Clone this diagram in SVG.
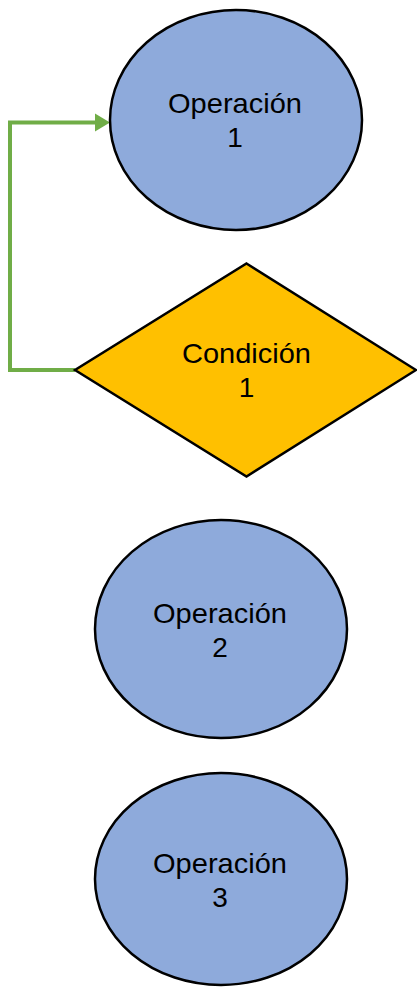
<svg xmlns="http://www.w3.org/2000/svg" width="417" height="987" viewBox="0 0 417 987">
<style>
.op{fill:#8EAADB;stroke:#000;stroke-width:2.5}
.cond{fill:#FFC000;stroke:#000;stroke-width:2.5}
.t{font-family:"Liberation Sans",Arial,sans-serif;font-size:28px;fill:#000;text-anchor:middle}
.conn{fill:none;stroke:#70AD47;stroke-width:4}
</style>
<defs>
<marker id="ah" markerUnits="userSpaceOnUse" markerWidth="16" markerHeight="18" refX="15" refY="9" orient="auto">
<path d="M0,0 L15,9 L0,18 Z" fill="#70AD47"/>
</marker>
</defs>
<rect width="417" height="987" fill="#fff"/>
<g id="connectors">
<path class="conn" d="M75,370 H10 V122.5 H100"/>
<path d="M95,113.5 L110,122.5 L95,131.5 Z" fill="#70AD47"/>
</g>
<g id="op1">
<ellipse class="op" cx="236" cy="120" rx="126" ry="110"/>
<text class="t" x="235" y="113" textLength="134" lengthAdjust="spacingAndGlyphs">Operación</text>
<text class="t" x="235" y="146.5">1</text>
</g>
<g id="cond1">
<polygon class="cond" points="246.5,263.5 416,370 246.5,476.5 75,370"/>
<text class="t" x="246.5" y="363" textLength="129" lengthAdjust="spacingAndGlyphs">Condición</text>
<text class="t" x="246.5" y="396.5">1</text>
</g>
<g id="op2">
<ellipse class="op" cx="221" cy="629" rx="126" ry="109"/>
<text class="t" x="220" y="623" textLength="134" lengthAdjust="spacingAndGlyphs">Operación</text>
<text class="t" x="220" y="656.5">2</text>
</g>
<g id="op3">
<ellipse class="op" cx="221" cy="879" rx="126" ry="106"/>
<text class="t" x="220" y="873" textLength="134" lengthAdjust="spacingAndGlyphs">Operación</text>
<text class="t" x="220" y="906.5">3</text>
</g>
</svg>
